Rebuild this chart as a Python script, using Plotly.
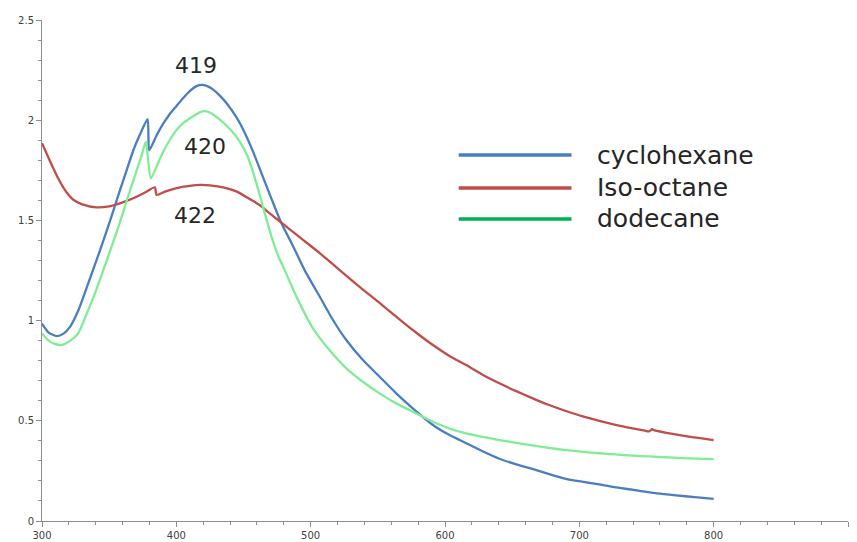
import plotly.graph_objects as go

# ---------------- data ----------------
series_names = ["cyclohexane", "Iso-octane", "dodecane"]

cyclo_x = [300, 305, 311, 316, 321, 327, 333, 340, 346, 352, 358, 363, 368, 373, 378.6, 379.8,
           385, 390, 395, 400, 405, 410, 415, 419, 423, 427, 432, 438, 444.7, 450, 457, 464,
           471, 478, 487, 495.5, 506.7, 516.6, 526.5, 538.9, 551.3, 563.7, 576, 591, 603,
           615.8, 628, 640, 652, 665, 677, 690, 703, 717, 730, 744, 758, 772, 786, 800]
cyclo_y = [0.985, 0.94, 0.923, 0.935, 0.97, 1.05, 1.16, 1.29, 1.405, 1.525, 1.65, 1.75, 1.85, 1.93,
           2.005, 1.85, 1.92, 1.98, 2.03, 2.07, 2.11, 2.145, 2.17, 2.176, 2.17, 2.155, 2.125, 2.08,
           2.015, 1.95, 1.845, 1.725, 1.605, 1.49, 1.37, 1.252, 1.12, 1.003, 0.903, 0.803, 0.72,
           0.637, 0.562, 0.479, 0.43, 0.388, 0.348, 0.312, 0.285, 0.26, 0.235, 0.21, 0.195,
           0.18, 0.165, 0.152, 0.138, 0.128, 0.119, 0.11]

iso_x = [300, 304, 308.4, 312, 315.8, 320, 323.3, 330, 340.6, 350, 358, 364, 370.4, 377, 384,
         385.3, 392, 402.6, 410, 417.5, 425, 435, 444.7, 455, 462, 469.5, 478, 492, 506.7,
         521.6, 538.9, 551.3, 563.7, 576, 591, 603, 615.8, 628, 640.5, 653, 665.3, 677, 690,
         702, 714.9, 727, 739.6, 748, 752, 754, 756, 765, 778, 790, 800]
iso_y = [1.885, 1.825, 1.76, 1.71, 1.665, 1.625, 1.603, 1.58, 1.565, 1.57, 1.585, 1.60, 1.618,
         1.64, 1.665, 1.627, 1.645, 1.665, 1.672, 1.677, 1.675, 1.665, 1.645, 1.605, 1.577,
         1.535, 1.49, 1.415, 1.337, 1.252, 1.155, 1.088, 1.02, 0.953, 0.878, 0.825, 0.778,
         0.73, 0.687, 0.648, 0.612, 0.58, 0.549, 0.523, 0.50, 0.48, 0.4625, 0.452, 0.447,
         0.458, 0.452, 0.44, 0.425, 0.413, 0.404]

dode_x = [300, 305, 309, 314.6, 320, 327, 333, 339.4, 345, 351.8, 358, 364, 370, 374, 377.3,
          381, 386, 390, 395, 400, 406, 412.5, 417, 421, 426, 431, 437, 442, 447, 453, 459,
          465, 471, 476, 480.7, 486, 491.8, 501.7, 514, 526.5, 538.9, 551.3, 563.7, 576,
          593.5, 604, 615.8, 628, 640.5, 653, 665, 677, 690, 703, 715, 727, 739.6, 752, 764,
          776, 788, 800]
dode_y = [0.936, 0.90, 0.885, 0.878, 0.895, 0.937, 1.03, 1.136, 1.24, 1.369, 1.49, 1.618, 1.74,
          1.82, 1.893, 1.71, 1.78, 1.84, 1.90, 1.95, 1.99, 2.02, 2.038, 2.045, 2.035, 2.01,
          1.975, 1.94, 1.895, 1.82, 1.70, 1.555, 1.415, 1.32, 1.252, 1.17, 1.086, 0.961, 0.853,
          0.762, 0.695, 0.637, 0.587, 0.545, 0.4875, 0.46, 0.437, 0.42, 0.404, 0.39, 0.377,
          0.365, 0.354, 0.345, 0.338, 0.332, 0.326, 0.322, 0.318, 0.314, 0.311, 0.309]

peak_labels = ["419", "420", "422"]
peak_label_x = [414.6, 421.3, 413.8]
peak_label_y = [2.275, 1.871, 1.522]

x_ticks = [300, 400, 500, 600, 700, 800, 900]
y_ticks = [0, 0.5, 1, 1.5, 2, 2.5]
y_tick_text = ["0", "0.5", "1", "1.5", "2", "2.5"]

# ---------------- styles ----------------
curve_colors = ["#4A7EBF", "#BF4D4A", "#80EC96"]
legend_colors = ["#4A7EBF", "#BF4D4A", "#00B050"]
xs = [cyclo_x, iso_x, dode_x]
ys = [cyclo_y, iso_y, dode_y]

fig = go.Figure()
for name, x, y, c in zip(series_names, xs, ys, curve_colors):
    fig.add_trace(go.Scatter(x=x, y=y, mode="lines", name=name,
                             line=dict(color=c, width=2.3, shape="spline", smoothing=0.6),
                             showlegend=False))

# peak wavelength labels
for t, px, py in zip(peak_labels, peak_label_x, peak_label_y):
    fig.add_annotation(x=px, y=py, xref="x", yref="y", text=t, showarrow=False,
                       font=dict(family="DejaVu Sans", size=22, color="#262626"))

# manual legend (long swatches like the original)
leg_x0, leg_x1, leg_tx = 0.517, 0.657, 0.686
leg_rows = [0.7305, 0.6647, 0.6028]
for name, c, ry in zip(series_names, legend_colors, leg_rows):
    fig.add_shape(type="line", xref="paper", yref="paper", x0=leg_x0, x1=leg_x1,
                  y0=ry, y1=ry, line=dict(color=c, width=3.5))
    fig.add_annotation(x=leg_tx, y=ry, xref="paper", yref="paper", text=name,
                       showarrow=False, xanchor="left", yanchor="middle",
                       font=dict(family="DejaVu Sans", size=25, color="#262626"))

axis_common = dict(showgrid=False, zeroline=False, showline=True, linecolor="#8C8C8C",
                   linewidth=1, ticks="outside", ticklen=5, tickcolor="#8C8C8C",
                   automargin=False,
                   tickfont=dict(family="DejaVu Sans", size=10, color="#404040"))

fig.update_xaxes(range=[300, 900], tickvals=x_ticks,
                 minor=dict(dtick=20, ticks="outside", ticklen=3, tickcolor="#8C8C8C"),
                 **axis_common)
fig.update_yaxes(range=[0, 2.5], tickvals=y_ticks, ticktext=y_tick_text,
                 minor=dict(dtick=0.1, ticks="outside", ticklen=3, tickcolor="#8C8C8C"),
                 **axis_common)

fig.update_layout(width=857, height=542, paper_bgcolor="white", plot_bgcolor="white",
                  margin=dict(l=42, r=9, t=20, b=21))

fig.write_html("out.html", config={"displayModeBar": False},
               post_script="document.body.style.margin='0';")
